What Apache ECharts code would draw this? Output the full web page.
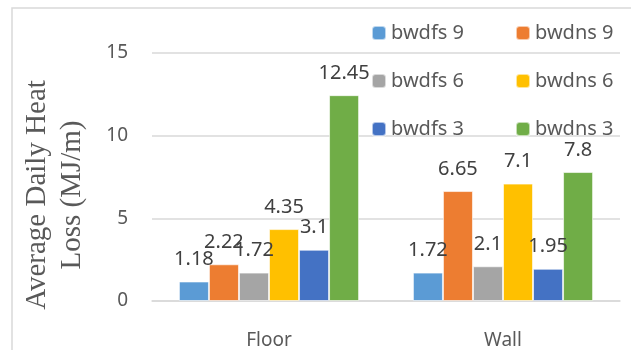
<!DOCTYPE html>
<html>
<head>
<meta charset="utf-8">
<script src="https://cdn.jsdelivr.net/npm/echarts@6/dist/echarts.min.js"></script>
<style>
html, body { margin: 0; padding: 0; background: #fff; }
#chart { width: 631px; height: 350px; }
</style>
</head>
<body>
<div id="chart"></div>
<script>
var categories = ['Floor', 'Wall'];
var seriesNames = ['bwdfs 9', 'bwdns 9', 'bwdfs 6', 'bwdns 6', 'bwdfs 3', 'bwdns 3'];
var bwdfs9 = [1.18, 1.72];
var bwdns9 = [2.22, 6.65];
var bwdfs6 = [1.72, 2.1];
var bwdns6 = [4.35, 7.1];
var bwdfs3 = [3.1, 1.95];
var bwdns3 = [12.45, 7.8];
var seriesValues = [bwdfs9, bwdns9, bwdfs6, bwdns6, bwdfs3, bwdns3];
var colors = ['#5B9BD5', '#ED7D31', '#A5A5A5', '#FFC000', '#4472C4', '#70AD47'];

var myChart = echarts.init(document.getElementById('chart'));

var font = '"Noto Sans", sans-serif';
var legendText = { fontFamily: font, fontSize: 20, color: '#595959', lineHeight: 20 };

var series = [];
for (var i = 0; i < seriesNames.length; i++) {
    series.push({
        name: seriesNames[i],
        type: 'bar',
        data: seriesValues[i],
        barGap: 0,
        barCategoryGap: '23%',
        itemStyle: { color: colors[i], borderColor: 'rgba(255,255,255,0.6)', borderWidth: 1 },
        label: {
            show: true,
            position: 'top',
            distance: 12,
            fontFamily: font,
            fontSize: 20,
            color: '#404040'
        }
    });
}

option = {
    animation: false,
    color: colors,
    graphic: [{
        type: 'rect',
        shape: { x: 12, y: 8, width: 640, height: 380 },
        style: { fill: 'none', stroke: '#d9d9d9', lineWidth: 1.5 },
        silent: true
    }],
    legend: [{
        orient: 'vertical',
        left: 371,
        top: 23,
        padding: 0,
        itemWidth: 14,
        itemHeight: 14,
        itemGap: 28,
        textStyle: legendText,
        data: ['bwdfs 9', 'bwdfs 6', 'bwdfs 3']
    }, {
        orient: 'vertical',
        left: 515,
        top: 23,
        padding: 0,
        itemWidth: 14,
        itemHeight: 14,
        itemGap: 28,
        textStyle: legendText,
        data: ['bwdns 9', 'bwdns 6', 'bwdns 3']
    }],
    grid: { left: 152, right: 11, top: 53, bottom: 47 },
    xAxis: {
        type: 'category',
        data: categories,
        axisLine: { lineStyle: { color: '#d9d9d9', width: 1.5 } },
        axisTick: { show: false },
        axisLabel: { fontFamily: font, fontSize: 19, color: '#595959', margin: 30 }
    },
    yAxis: {
        type: 'value',
        min: 0,
        max: 15,
        interval: 5,
        name: 'Average Daily Heat\nLoss (MJ/m)',
        nameLocation: 'middle',
        nameGap: 62,
        nameTextStyle: {
            fontFamily: '"Liberation Serif", serif',
            fontSize: 29,
            lineHeight: 35,
            color: '#595959',
            padding: [0, 36, 0, 0]
        },
        axisLine: { show: false },
        axisTick: { show: false },
        splitLine: { lineStyle: { color: '#d9d9d9', width: 1.5 } },
        axisLabel: { fontFamily: font, fontSize: 19, color: '#595959', margin: 24 }
    },
    series: series
};

myChart.setOption(option);
</script>
</body>
</html>
